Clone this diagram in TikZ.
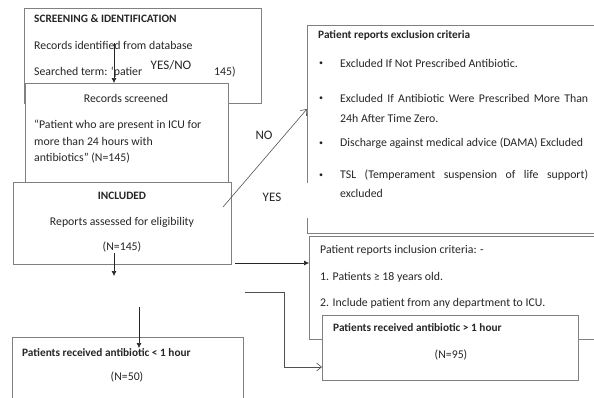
\documentclass[tikz,border=0pt]{standalone}
\usepackage{fontspec}
\setmainfont{Carlito}
\usetikzlibrary{positioning}
\usetikzlibrary{arrows.meta}
\usetikzlibrary{calc}
\definecolor{edge}{HTML}{808080}
\definecolor{ink}{HTML}{262626}
\tikzset{
  % A flow box, placed by its top left corner: width / height
  flowbox/.style 2 args={
    draw=edge, fill=white, rectangle, anchor=north west,
    inner sep=0pt, minimum width=#1, minimum height=#2},
  % Plain text lines inside the boxes
  txt/.style={anchor=west, inner sep=0pt, text=ink, font=\fontsize{11.8}{14}\selectfont},
  head/.style={txt, font=\fontsize{11.3}{14}\selectfont\bfseries},
  dot/.style={txt, font=\fontsize{8}{10}\selectfont},
  % Branch labels
  yn/.style={anchor=center, inner sep=1pt, text=ink, font=\fontsize{13}{15}\selectfont},
  % Connectors
  flow/.style={-{Latex[length=5pt,width=5pt]}, draw=ink, line width=0.6pt},
  openflow/.style={-{Straight Barb[length=5pt,width=8pt]}, draw=ink!80, line width=0.6pt},
  link/.style={draw=ink!80, line width=0.6pt},
}
\begin{document}
\begin{tikzpicture}[x=1pt, y=-1pt]
\useasboundingbox (0,0) rectangle (594,397);
\clip (0,0) rectangle (594,397);

% screening
\node[flowbox={237pt}{95pt}] (scr) at (24,8) {};
\node[head] (scrhd) at (34,19) {SCREENING \& IDENTIFICATION};
\node[txt] (scrdb) at (34,45) {Records identified from database};
\node[txt] (scrterm) at (34,72) {Searched term: ‘patier};
\node[txt] (scrn) at (214,72) {145)};
\node[yn] (yesno) at (171,65) {YES/NO};

% records screened
\node[flowbox={203pt}{99pt}] (rsc) at (25,83) {};
\node[txt, anchor=center] (rschd) at (126,98) {Records screened};
\node[txt] (rscq1) at (34,125) {“Patient who are present in ICU for};
\node[txt] (rscq2) at (34,141) {more than 24 hours with};
\node[txt] (rscq3) at (34,158) {antibiotics” (N=145)};
\coordinate (scrout) at (114,43);
\draw[flow] (scrout) -- (scrout |- rsc.north);

% included
\node[flowbox={218pt}{82pt}] (inc) at (13,182) {};
\node[head, anchor=center] (inchd) at (122,196) {INCLUDED};
\node[txt, anchor=center] (increp) at (122,222) {Reports assessed for eligibility};
\node[txt, anchor=center] (incn) at (122,247) {(N=145)};

% exclusion criteria
\node[anchor=north west, inner sep=0pt, minimum width=300pt, minimum height=208pt] (excl) at (307,25) {};
\draw[link, draw=edge] (excl.north east) -- (excl.north west) -- ++(0,158);
\draw[link, draw=edge] (excl.south west) ++(0,-15) -- (excl.south west) -- (excl.south east);
\node[head] (exclhd) at (318,35) {Patient reports exclusion criteria};
\foreach \y/\name in {64/ex1, 99/ex2, 144/ex3, 176/ex4}
  \node[dot] (\name dot) at (319,\y) {•};
\node[txt] (ex1) at (340,63) {Excluded If Not Prescribed Antibiotic.};
\node[txt] (ex2) at (340,98) {\makebox[248pt][s]{Excluded If Antibiotic Were Prescribed More Than}};
\node[txt] (ex2b) at (340,118) {24h After Time Zero.};
\node[txt] (ex3) at (340,143) {Discharge against medical advice (DAMA) Excluded};
\node[txt] (ex4) at (340,175) {\makebox[248pt][s]{TSL (Temperament suspension of life support)}};
\node[txt] (ex4b) at (340,193) {excluded};

% inclusion criteria
\node[flowbox={300pt}{103pt}] (incl) at (309,236) {};
\node[txt] (inclhd) at (320,250) {Patient reports inclusion criteria: -};
\node[txt] (incl1) at (320,277) {1. Patients ≥ 18 years old.};
\node[txt] (incl2) at (320,303) {2. Include patient from any department to ICU.};

% outcome boxes
\node[flowbox={256pt}{65pt}] (gt) at (322,315) {};
\node[head] (gthd) at (333,328) {Patients received antibiotic > 1 hour};
\node[txt, anchor=center] (gtn) at (451,355) {(N=95)};

\node[flowbox={231pt}{80pt}] (lt) at (12,337) {};
\node[head] (lthd) at (22,353) {Patients received antibiotic < 1 hour};
\node[txt, anchor=center] (ltn) at (127,377) {(N=50)};

% branches
\node[yn] (no) at (264,135) {NO};
\node[yn] (yes) at (272,197) {YES};
\coordinate (diag) at (223,207);
\draw[openflow] (diag) -- (excl.west |- 0,109);

\coordinate (incout) at (114,253);
\draw[flow] (incout) -- (114,276);
\draw[flow] (235,263) -- (incl.west |- 0,263);
\draw[openflow] (245,292) -| (284,367) -- (gt.west |- 0,367);
\draw[flow] (139,307) -- (139,348);

\end{tikzpicture}
\end{document}
